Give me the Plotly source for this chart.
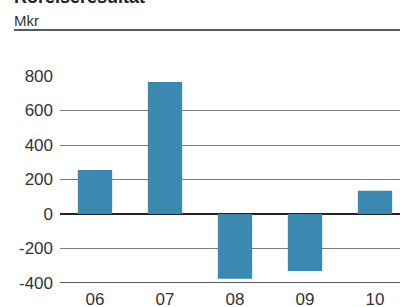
import plotly.graph_objects as go

categories = ["06", "07", "08", "09", "10"]
values = [255, 765, -375, -330, 135]
y_ticks = [-400, -200, 0, 200, 400, 600, 800]
title = "Rörelseresultat"
unit = "Mkr"

W, H = 400, 307
L, R, T, B = 60, 0, 76, 24
pw, ph = W - L - R, H - T - B

def px_x(p):
    return (p - L) / pw

def px_y(p):
    return 1 + (T - p) / ph

fig = go.Figure(go.Bar(
    x=list(range(len(categories))), y=values,
    marker=dict(color="#3A89B0", line=dict(width=0)),
    width=0.49,
))

font = "Liberation Sans, Arial, sans-serif"
fig.update_layout(
    width=W, height=H,
    margin=dict(l=L, r=R, t=T, b=B, autoexpand=False),
    paper_bgcolor="white", plot_bgcolor="white",
    showlegend=False,
    font=dict(family=font, size=16, color="#333333"),
    xaxis=dict(
        range=[-0.5, -0.5 + pw / 70.0],
        tickmode="array", tickvals=list(range(len(categories))), ticktext=categories,
        showgrid=False, zeroline=False, showline=False, ticks="",
        tickfont=dict(size=17, color="#333333"),
        ticklabelstandoff=4, automargin=False,
    ),
    yaxis=dict(
        range=[-400, 800],
        tickmode="array", tickvals=y_ticks, ticktext=[str(v) for v in y_ticks],
        showgrid=True, gridcolor="#7a7a7a", gridwidth=1,
        zeroline=True, zerolinecolor="#222222", zerolinewidth=2,
        showline=False, ticks="",
        tickfont=dict(size=17, color="#333333"),
        ticklabelstandoff=6, automargin=False,
    ),
    shapes=[
        dict(type="line", xref="paper", yref="paper",
             x0=px_x(14), x1=1.0, y0=px_y(30), y1=px_y(30),
             line=dict(color="#222222", width=1.5)),
        dict(type="line", xref="paper", yref="y",
             x0=0, x1=1.0, y0=-400, y1=-400,
             line=dict(color="#222222", width=1.5)),
    ],
    annotations=[
        dict(text="<b>" + title + "</b>", xref="paper", yref="paper",
             x=px_x(12), y=px_y(9.5), xanchor="left", yanchor="bottom",
             showarrow=False, font=dict(size=18, color="#222222")),
        dict(text=unit, xref="paper", yref="paper",
             x=px_x(12), y=px_y(20), xanchor="left", yanchor="middle",
             showarrow=False, font=dict(size=15, color="#333333")),
    ],
)

fig.write_html("out.html", config={"displayModeBar": False},
               post_script="document.body.style.margin='0';")
